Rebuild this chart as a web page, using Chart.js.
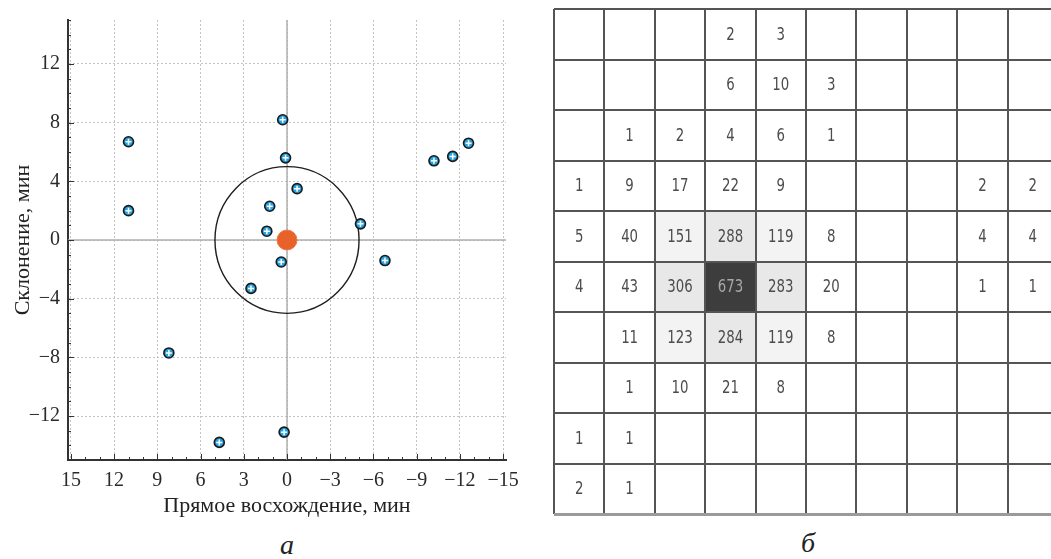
<!DOCTYPE html>
<html>
<head>
<meta charset="utf-8">
<script src="https://cdn.jsdelivr.net/npm/chart.js@4/dist/chart.umd.min.js"></script>
<style>
    body { margin: 0; background: #fff; width: 1051px; height: 559px; position: relative; overflow: hidden; }
    .panel { position: absolute; top: 0; }
    .caption { position: absolute; font-family: 'Liberation Serif', serif; font-style: italic; font-size: 28px; color: #222; transform: translateX(-50%); }
</style>
</head>
<body>
<div class="panel" style="left:0;"><canvas id="scatter-chart" width="545" height="525"></canvas></div>
<div class="panel" style="left:550px;"><canvas id="grid-chart" width="501" height="525"></canvas></div>
<div class="caption" style="left:287px; top:529px;">а</div>
<div class="caption" style="left:808px; top:527px;">б</div>

<script>
// ===== DATA =====
// panel a: offsets of the objects, minutes
const raValues  = [11.0, 11.0, 0.3, 0.1, -0.7, 1.2, 1.4, 0.4, -5.1, -6.8, -10.2, -11.5, -12.6, 2.5, 8.2, 4.7, 0.2];
const decValues = [6.7, 2.0, 8.2, 5.6, 3.5, 2.3, 0.6, -1.5, 1.1, -1.4, 5.4, 5.7, 6.6, -3.3, -7.7, -13.8, -13.1];
const centerRA = [0];
const centerDec = [0];
const circleRadius = 5;

const raTicks = [15, 12, 9, 6, 3, 0, -3, -6, -9, -12, -15];
const decTicks = [-12, -8, -4, 0, 4, 8, 12];

// panel б: counts per cell, rows top to bottom
const countRows = [
    [null, null, null, 2, 3, null, null, null, null, null],
    [null, null, null, 6, 10, 3, null, null, null, null],
    [null, 1, 2, 4, 6, 1, null, null, null, null],
    [1, 9, 17, 22, 9, null, null, null, 2, 2],
    [5, 40, 151, 288, 119, 8, null, null, 4, 4],
    [4, 43, 306, 673, 283, 20, null, null, 1, 1],
    [null, 11, 123, 284, 119, 8, null, null, null, null],
    [null, 1, 10, 21, 8, null, null, null, null, null],
    [1, 1, null, null, null, null, null, null, null, null],
    [2, 1, null, null, null, null, null, null, null, null]
];

const points = raValues.map((x, i) => ({ x: x, y: decValues[i] }));
const center = centerRA.map((x, i) => ({ x: x, y: centerDec[i] }));
const minus = v => (v < 0 ? '\u2212' + Math.abs(v) : String(v));

// ===== PANEL A =====
const axisDecor = {
    id: 'axisDecor',
    beforeDatasetsDraw(chart) {
        const { ctx, chartArea: a, scales: { x, y } } = chart;
        ctx.save();
        // zero lines
        ctx.strokeStyle = '#b0b0b0';
        ctx.lineWidth = 1.5;
        ctx.beginPath();
        ctx.moveTo(x.getPixelForValue(0), a.top);
        ctx.lineTo(x.getPixelForValue(0), a.bottom);
        ctx.moveTo(a.left, y.getPixelForValue(0));
        ctx.lineTo(a.right, y.getPixelForValue(0));
        ctx.stroke();
        // circle of radius circleRadius around the centre
        const cx = x.getPixelForValue(centerRA[0]);
        const cy = y.getPixelForValue(centerDec[0]);
        const rx = Math.abs(x.getPixelForValue(centerRA[0] + circleRadius) - cx);
        const ry = Math.abs(y.getPixelForValue(centerDec[0] + circleRadius) - cy);
        ctx.strokeStyle = '#1e1e1e';
        ctx.lineWidth = 1.4;
        ctx.beginPath();
        ctx.ellipse(cx, cy, rx, ry, 0, 0, Math.PI * 2);
        ctx.stroke();
        ctx.restore();
    },
    afterDraw(chart) {
        const { ctx, chartArea: a, scales: { x, y } } = chart;
        ctx.save();
        ctx.strokeStyle = '#333';
        ctx.lineWidth = 1;
        ctx.beginPath();
        for (let v = -15; v <= 15; v++) {
            const px = Math.round(x.getPixelForValue(v)) + 0.5;
            const len = v % 3 === 0 ? 6 : 3;
            ctx.moveTo(px, a.bottom);
            ctx.lineTo(px, a.bottom - len);
            const py = Math.round(y.getPixelForValue(v)) + 0.5;
            const len2 = v % 4 === 0 ? 6 : 3;
            ctx.moveTo(a.left, py);
            ctx.lineTo(a.left + len2, py);
        }
        ctx.stroke();
        ctx.restore();
    }
};

const serif = { family: "'Liberation Serif', serif", size: 20 };
const serifTitle = { family: "'Liberation Serif', serif", size: 22 };

new Chart(document.getElementById('scatter-chart'), {
    type: 'scatter',
    data: {
        datasets: [
            {
                label: 'cross',
                data: points,
                pointStyle: 'cross',
                pointRadius: 3,
                borderColor: '#ffffff',
                borderWidth: 1.5,
                order: 0
            },
            {
                label: 'objects',
                data: points,
                pointRadius: 5,
                backgroundColor: '#27a2df',
                borderColor: '#1a1a1a',
                borderWidth: 1.6,
                order: 1
            },
            {
                label: 'center',
                data: center,
                pointRadius: 10,
                backgroundColor: '#e8612a',
                borderColor: '#ee7a45',
                borderWidth: 1,
                order: 2
            }
        ]
    },
    options: {
        responsive: false,
        animation: false,
        events: [],
        layout: { padding: { top: 14, right: 39, left: 0, bottom: 0 } },
        plugins: { legend: { display: false }, tooltip: { enabled: false } },
        scales: {
            x: {
                type: 'linear',
                reverse: true,
                min: -15.2,
                max: 15.2,
                afterFit: s => { s.height = 65; },
                afterBuildTicks: s => { s.ticks = raTicks.map(v => ({ value: v })); },
                ticks: { font: serif, color: '#2a2a2a', padding: 9, maxRotation: 0, callback: minus },
                grid: { color: '#c4c4c4', lineWidth: 1, drawTicks: false },
                border: { display: true, color: '#333', width: 2, dash: [2, 2] },
                title: {
                    display: true,
                    text: 'Прямое восхождение, мин',
                    font: serifTitle,
                    color: '#222',
                    padding: { top: 0, bottom: 6 }
                }
            },
            y: {
                type: 'linear',
                min: -15,
                max: 15,
                afterFit: s => { s.width = 68; },
                afterBuildTicks: s => { s.ticks = decTicks.map(v => ({ value: v })); },
                ticks: { font: serif, color: '#2a2a2a', padding: 8, callback: minus },
                grid: { color: '#c4c4c4', lineWidth: 1, drawTicks: false },
                border: { display: true, color: '#333', width: 2, dash: [2, 2] },
                title: {
                    display: true,
                    text: 'Склонение, мин',
                    font: serifTitle,
                    color: '#222',
                    padding: { top: 10, bottom: 0 }
                }
            }
        }
    },
    plugins: [axisDecor]
});

// ===== PANEL Б =====
function cellFill(v) {
    if (v >= 500) return '#3d3d3d';
    if (v >= 250) return '#e8e8e8';
    if (v >= 100) return '#f3f3f3';
    return null;
}

const cellText = {
    id: 'cellText',
    beforeDatasetsDraw(chart) {
        const { ctx, scales: { x, y } } = chart;
        ctx.save();
        countRows.forEach((row, r) => {
            row.forEach((v, c) => {
                if (v === null) return;
                const x0 = x.getPixelForValue(c), x1 = x.getPixelForValue(c + 1);
                const y0 = y.getPixelForValue(r), y1 = y.getPixelForValue(r + 1);
                const fill = cellFill(v);
                if (fill) {
                    ctx.fillStyle = fill;
                    ctx.fillRect(x0, y0, x1 - x0, y1 - y0);
                }
                ctx.save();
                ctx.translate((x0 + x1) / 2, (y0 + y1) / 2 + 1);
                ctx.scale(0.74, 1);
                ctx.font = '18px "DejaVu Sans", sans-serif';
                ctx.textAlign = 'center';
                ctx.textBaseline = 'middle';
                ctx.fillStyle = v >= 500 ? '#a8a8a8' : '#4c4c4c';
                ctx.fillText(String(v), 0, 0);
                ctx.restore();
            });
        });
        ctx.restore();
    }
};

new Chart(document.getElementById('grid-chart'), {
    type: 'scatter',
    data: { datasets: [{ data: [], pointRadius: 0 }] },
    options: {
        responsive: false,
        animation: false,
        events: [],
        layout: { padding: { top: 9, right: 0, left: 4, bottom: 11 } },
        plugins: { legend: { display: false }, tooltip: { enabled: false } },
        scales: {
            x: {
                type: 'linear',
                min: 0,
                max: 9.86,
                afterFit: s => { s.height = 0; },
                ticks: { display: false, stepSize: 1, includeBounds: false },
                grid: { color: '#555555', lineWidth: 2, drawTicks: false, z: 1 },
                border: { display: false }
            },
            y: {
                type: 'linear',
                reverse: true,
                min: 0,
                max: 10,
                afterFit: s => { s.width = 0; },
                ticks: { display: false, stepSize: 1 },
                grid: {
                    color: c => (c.tick.value === 10 ? '#9a9a9a' : '#555555'),
                    lineWidth: c => (c.tick.value === 10 ? 3 : 2),
                    drawTicks: false,
                    z: 1
                },
                border: { display: false }
            }
        }
    },
    plugins: [cellText]
});
</script>
</body>
</html>
